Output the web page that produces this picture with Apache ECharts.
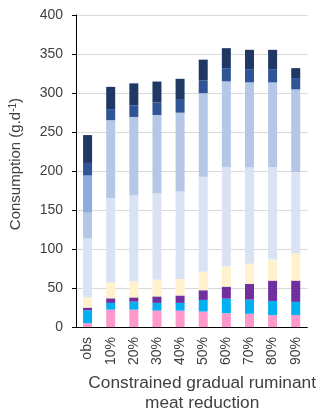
<!DOCTYPE html>
<html>
<head>
<meta charset="utf-8">
<script src="https://cdn.jsdelivr.net/npm/echarts@6/dist/echarts.min.js"></script>
<style>
html,body{margin:0;padding:0;background:#fff;}
#chart{width:322px;height:418px;}
</style>
</head>
<body>
<div id="chart"></div>
<script>
var categories = ['obs','10%','20%','30%','40%','50%','60%','70%','80%','90%'];
var yTicks = [0,50,100,150,200,250,300,350,400];

// stacked segments, bottom to top
var seg1 = [5.0, 22.3, 22.3, 21.1, 21.1, 19.9, 17.8, 17.0, 15.3, 15.3];          // pink
var seg2 = [16.5, 8.7, 10.3, 9.9, 9.9, 14.9, 18.6, 18.2, 18.2, 17.0];            // cyan
var seg3 = [3.4, 5.9, 5.4, 8.3, 9.5, 12.4, 15.4, 20.3, 26.1, 27.3];              // purple
var seg4 = [13.2, 20.3, 20.8, 21.5, 21.2, 23.8, 26.1, 25.6, 26.9, 34.8];         // light yellow
var seg5 = [75.3, 108.3, 110.4, 110.5, 112.1, 121.6, 127.3, 123.3, 118.7, 104.3]; // very light blue
var seg6 = [33.2, 99.7, 100.1, 100.5, 101.0, 107.2, 109.7, 109.2, 108.4, 105.9]; // light blue
var seg7 = [47.7, 0, 0, 0, 0, 0, 0, 0, 0, 0];                                     // medium blue
var seg8 = [16.1, 14.2, 14.9, 16.1, 16.5, 16.2, 16.9, 17.0, 17.0, 14.5];         // dark blue
var seg9 = [35.7, 28.5, 28.2, 26.8, 26.9, 26.8, 25.7, 24.8, 24.8, 12.8];         // navy

var segNames = ['Group 1','Group 2','Group 3','Group 4','Group 5','Group 6','Group 7','Group 8','Group 9'];
var segData = [seg1,seg2,seg3,seg4,seg5,seg6,seg7,seg8,seg9];
var segColors = ['#FF99CC','#00B0F0','#7030A0','#FFF2CC','#DAE3F3','#B4C7E7','#8FAADC','#2F5597','#203864'];

var FONT = '"Liberation Sans", Arial, sans-serif';

var series = segData.map(function(d, i){
  return {
    name: segNames[i],
    type: 'bar',
    stack: 'total',
    barWidth: 9,
    data: d,
    itemStyle: {color: segColors[i]},
    emphasis: {disabled: true}
  };
});

var chart = echarts.init(document.getElementById('chart'), null, {renderer:'canvas'});
chart.setOption({
  animation: false,
  backgroundColor: '#ffffff',
  textStyle: {fontFamily: FONT},
  grid: {left: 74, right: 14.7, top: 15, bottom: 80.5, containLabel: false},
  xAxis: {
    type: 'category',
    data: categories,
    axisLine: {show: true, lineStyle: {color: '#000', width: 1}},
    axisTick: {show: false},
    axisLabel: {rotate: 90, margin: 10, fontSize: 14, color: '#404040', fontFamily: FONT, interval: 0},
    name: 'Constrained gradual ruminant\nmeat reduction',
    nameLocation: 'middle',
    nameGap: 41,
    nameTextStyle: {fontSize: 17.3, color: '#404040', fontFamily: FONT, lineHeight: 20, padding: [0,0,0,21]}
  },
  yAxis: {
    type: 'value',
    min: yTicks[0],
    max: yTicks[yTicks.length-1],
    interval: yTicks[1]-yTicks[0],
    axisLine: {show: true, lineStyle: {color: '#000', width: 1}},
    axisTick: {show: true, inside: false, length: 4, lineStyle: {color: '#000'}},
    axisLabel: {margin: 13, fontSize: 14, color: '#404040', fontFamily: FONT},
    splitLine: {show: true, lineStyle: {color: '#D9D9D9', width: 1}},
    name: '{a|Consumption (g.d}{s|-1}{a|)}',
    nameLocation: 'middle',
    nameGap: 52,
    nameTextStyle: {
      color: '#404040', fontFamily: FONT, padding: [0,0,0,14],
      rich: {
        a: {fontSize: 15, color: '#404040', fontFamily: FONT},
        s: {fontSize: 10, color: '#404040', fontFamily: FONT, verticalAlign: 'top', padding: [0,0,6,0]}
      }
    }
  },
  series: series
});
</script>
</body>
</html>
